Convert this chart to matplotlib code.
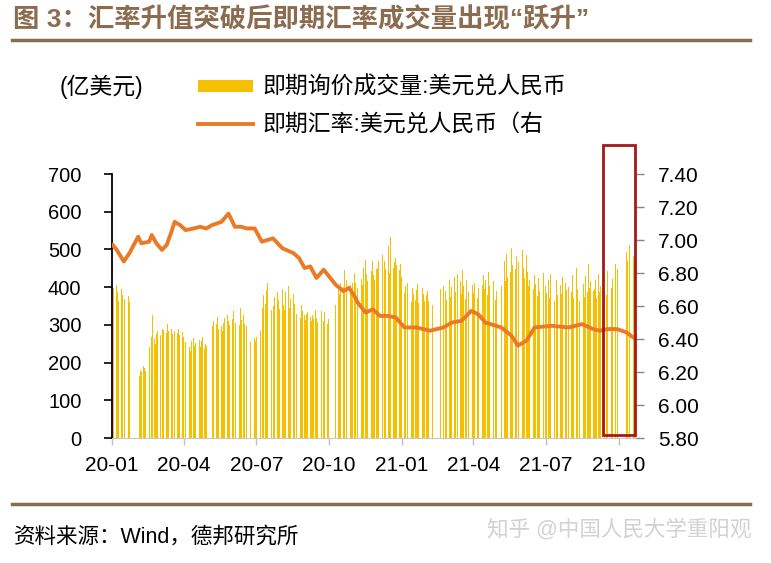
import matplotlib
matplotlib.use("Agg")
import matplotlib.pyplot as plt
from matplotlib.patches import Rectangle
from matplotlib.lines import Line2D
import numpy as np
import pandas as pd

plt.rcParams['font.family'] = ['Liberation Sans', 'Noto Sans CJK SC', 'DejaVu Sans']

# 交易日范围与假期（银行间外汇市场休市）
start_day, end_day = '2020-01-02', '2021-10-22'
holidays = [
    '2020-01-01', '2020-01-24', '2020-01-27', '2020-01-28', '2020-01-29',
    '2020-01-30', '2020-01-31', '2020-04-06', '2020-05-01', '2020-05-04',
    '2020-05-05', '2020-06-25', '2020-06-26', '2020-10-01', '2020-10-02',
    '2020-10-05', '2020-10-06', '2020-10-07', '2020-10-08', '2021-01-01',
    '2021-02-11', '2021-02-12', '2021-02-15', '2021-02-16', '2021-02-17',
    '2021-04-05', '2021-05-03', '2021-05-04', '2021-05-05', '2021-06-14',
    '2021-09-20', '2021-09-21', '2021-10-01', '2021-10-04', '2021-10-05',
    '2021-10-06', '2021-10-07',
]

# 即期询价成交量（亿美元），每个交易日一个值
volume = [
    # 2020-01
    352, 398, 371, 405, 388, 362, 410, 395, 380, 424, 401, 368, 415, 392, 377, 360,
    # 2020-02
    158, 172, 165, 181, 176, 190, 185, 178, 195, 188, 242, 256, 238, 268, 326, 262, 248, 275, 283, 259,
    # 2020-03
    272, 281, 268, 290, 286, 295, 278, 301, 284, 270, 288, 276, 292, 299, 285, 263, 279, 290, 274, 286, 281, 269,
    # 2020-04
    248, 236, 255, 262, 241, 230, 258, 266, 244, 252, 238, 229, 261, 247, 240, 256, 268, 235, 250, 243, 232,
    # 2020-05
    282, 296, 310, 275, 301, 322, 289, 315, 298, 284, 340, 306, 318, 292, 327, 311, 300, 285,
    # 2020-06
    315, 338, 352, 320, 306, 331, 318, 299, 344, 312, 325, 301, 290, 309, 296, 270, 262, 255, 266, 258,
    # 2020-07
    268, 275, 262, 284, 279, 322, 345, 378, 356, 392, 410, 368, 385, 340, 362, 398, 351, 374, 330, 388, 365, 342, 376,
    # 2020-08
    395, 352, 371, 340, 386, 360, 402, 345, 368, 333, 381, 356, 349, 372, 328, 361, 344, 318, 352, 336, 325,
    # 2020-09
    312, 328, 305, 334, 321, 338, 310, 326, 315, 340, 318, 307, 331, 322, 336, 314, 328, 309, 333, 320, 301, 316,
    # 2020-10
    352, 368, 395, 382, 410, 376, 401, 445, 388, 362, 420, 398, 375, 405, 386, 412,
    # 2020-11
    438, 412, 455, 430, 398, 446, 462, 421, 405, 450, 472, 436, 415, 458, 427, 444, 401, 468, 432, 419, 447,
    # 2020-12
    452, 468, 440, 573, 486, 455, 431, 470, 448, 462, 509, 437, 533, 475, 452, 466, 441, 478, 459, 430, 445, 461, 426,
    # 2021-01
    385, 402, 368, 395, 410, 372, 388, 360, 399, 381, 365, 392, 408, 376, 359, 387, 371, 398, 382, 364,
    # 2021-02
    378, 391, 362, 385, 370, 352, 366, 348, 395, 372, 404, 381, 356, 389, 367,
    # 2021-03
    392, 418, 375, 401, 490, 426, 388, 410, 372, 435, 398, 415, 381, 445, 402, 368, 420, 395, 433, 386, 412, 378, 405,
    # 2021-04
    384, 412, 371, 398, 426, 389, 405, 363, 432, 395, 418, 380, 441, 402, 374, 480, 415, 393, 436, 367, 390,
    # 2021-05
    402, 435, 468, 415, 452, 488, 426, 471, 439, 505, 458, 538, 447, 482, 512, 430, 466, 495,
    # 2021-06
    478, 498, 452, 425, 486, 440, 402, 468, 418, 445, 395, 432, 408, 376, 424, 389, 412, 365, 438, 396, 380,
    # 2021-07
    402, 385, 418, 372, 436, 398, 412, 364, 445, 391, 420, 378, 464, 405, 382, 428, 357, 410, 393, 441, 376, 400,
    # 2021-08
    415, 388, 432, 370, 405, 452, 396, 378, 421, 364, 440, 392, 408, 375, 429, 386, 462, 398, 371, 415, 389, 403,
    # 2021-09
    395, 418, 372, 436, 388, 404, 365, 428, 392, 455, 410, 380, 443, 398, 421, 387, 462, 415, 435, 448,
    # 2021-10
    478, 492, 470, 505, 486, 512, 475, 498, 483, 468, 525,
]

# 即期汇率：美元兑人民币（右轴）
rate_dates = [
    '2020-01-02', '2020-01-07', '2020-01-16', '2020-01-23', '2020-02-03', '2020-02-07',
    '2020-02-17', '2020-02-20', '2020-02-26', '2020-03-04', '2020-03-10', '2020-03-16',
    '2020-03-20', '2020-03-27', '2020-04-03', '2020-04-13', '2020-04-21', '2020-04-29',
    '2020-05-06', '2020-05-12', '2020-05-18', '2020-05-27', '2020-06-04', '2020-06-12',
    '2020-06-19', '2020-06-29', '2020-07-08', '2020-07-22', '2020-08-03', '2020-08-17',
    '2020-08-24', '2020-08-31', '2020-09-07', '2020-09-15', '2020-09-24', '2020-10-09',
    '2020-10-19', '2020-10-26', '2020-11-02', '2020-11-06', '2020-11-16', '2020-11-25',
    '2020-12-04', '2020-12-14', '2020-12-24', '2021-01-04', '2021-01-19', '2021-02-05',
    '2021-02-22', '2021-03-05', '2021-03-17', '2021-03-29', '2021-04-07', '2021-04-16',
    '2021-05-06', '2021-05-19', '2021-05-27', '2021-06-07', '2021-06-17', '2021-07-09',
    '2021-07-30', '2021-08-16', '2021-08-30', '2021-09-07', '2021-09-17', '2021-09-29',
    '2021-10-11', '2021-10-22',
]
rate = [
    6.97, 6.94, 6.87, 6.92, 7.02, 6.98,
    6.99, 7.03, 6.98, 6.94, 6.97, 7.05,
    7.11, 7.09, 7.06, 7.07, 7.08, 7.07,
    7.09, 7.10, 7.11, 7.16, 7.08, 7.08,
    7.07, 7.07, 6.99, 7.01, 6.95, 6.92,
    6.89, 6.83, 6.84, 6.77, 6.82, 6.73,
    6.69, 6.71, 6.66, 6.62, 6.56, 6.58,
    6.54, 6.54, 6.53, 6.47, 6.47, 6.45,
    6.47, 6.50, 6.51, 6.57, 6.55, 6.50,
    6.47, 6.42, 6.36, 6.39, 6.47, 6.48,
    6.47, 6.49, 6.46, 6.45, 6.46, 6.46,
    6.44, 6.40,
]

tick_dates = ['2020-01-01', '2020-04-01', '2020-07-01', '2020-10-01',
              '2021-01-01', '2021-04-01', '2021-07-01', '2021-10-01']
tick_labels = ['20-01', '20-04', '20-07', '20-10', '21-01', '21-04', '21-07', '21-10']

days = pd.bdate_range(start_day, end_day)
days = days[~days.isin(pd.to_datetime(holidays))]
assert len(days) == len(volume), (len(days), len(volume))

brown = '#8C6C4F'

fig = plt.figure(figsize=(7.71, 5.63), dpi=100)
ax = fig.add_axes([112 / 771, 1 - 438 / 563, 524 / 771, 264 / 563])

bars = ax.bar(days, volume, width=0.8, color='#F5C000', linewidth=0)
ax.set_ylim(0, 700)
ax.set_yticks(range(0, 701, 100))

ax2 = ax.twinx()
line, = ax2.plot(pd.to_datetime(rate_dates), rate, color='#EA7A26', lw=2.8,
                 solid_joinstyle='round')
ax2.set_ylim(5.8, 7.4)
rticks = np.arange(5.8, 7.41, 0.2)
ax2.set_yticks(rticks)
ax2.set_yticklabels([f'{t:.2f}' for t in rticks])

ax.set_xlim(pd.Timestamp('2020-01-01'), pd.Timestamp('2021-10-23'))
ax.set_xticks(pd.to_datetime(tick_dates))
ax.set_xticklabels(tick_labels)

for s in ['top', 'right']:
    ax.spines[s].set_visible(False)
for s in ['top', 'right', 'left', 'bottom']:
    ax2.spines[s].set_visible(False)
ax.spines['left'].set_color('black')
ax.spines['left'].set_linewidth(1.3)
ax.spines['bottom'].set_color('#C8C8C8')

ax.tick_params(axis='y', length=6, width=1.2, color='black', pad=16, labelsize=14.5)
ax.tick_params(axis='x', length=5, width=1, color='#C0C0C0', pad=8, labelsize=15)
ax2.tick_params(axis='y', length=6, width=1, color='#888888', pad=10, labelsize=15)

# 红框标注
ax2.add_patch(Rectangle((0.937, 0.011), 0.061, 1.099, transform=ax.transAxes,
                        fill=False, edgecolor='#A31A1A', lw=2, clip_on=False, zorder=5))

fig.legend([bars, line], ['即期询价成交量:美元兑人民币', '即期汇率:美元兑人民币（右'],
           loc='upper left', bbox_to_anchor=(198 / 771, 1 - 76 / 563), frameon=False,
           fontsize=16.5, handlelength=2.4, handleheight=0.42, handletextpad=0.4,
           labelspacing=0.62, borderpad=0, borderaxespad=0)
fig.text(60 / 771, 1 - 87 / 563, '(亿美元)', fontsize=16.5, va='center')

# 标题与分隔线
fig.text(13 / 771, 1 - 20 / 563, '图 3：汇率升值突破后即期汇率成交量出现“跃升”',
         fontsize=19, fontweight='bold', color=brown, va='center')
fig.add_artist(Line2D([12 / 771, 750 / 771], [1 - 40 / 563] * 2,
                      transform=fig.transFigure, color=brown, lw=2.5))
fig.add_artist(Line2D([12 / 771, 750 / 771], [1 - 504 / 563] * 2,
                      transform=fig.transFigure, color=brown, lw=2.5))

fig.text(14 / 771, 1 - 537 / 563, '资料来源：Wind，德邦研究所', fontsize=15.5, va='center')
fig.text(487 / 771, 1 - 530 / 563, '知乎 @中国人民大学重阳观', fontsize=15.5,
         color='#D2D2D2', va='center')

fig.savefig('out.png', dpi=100)
